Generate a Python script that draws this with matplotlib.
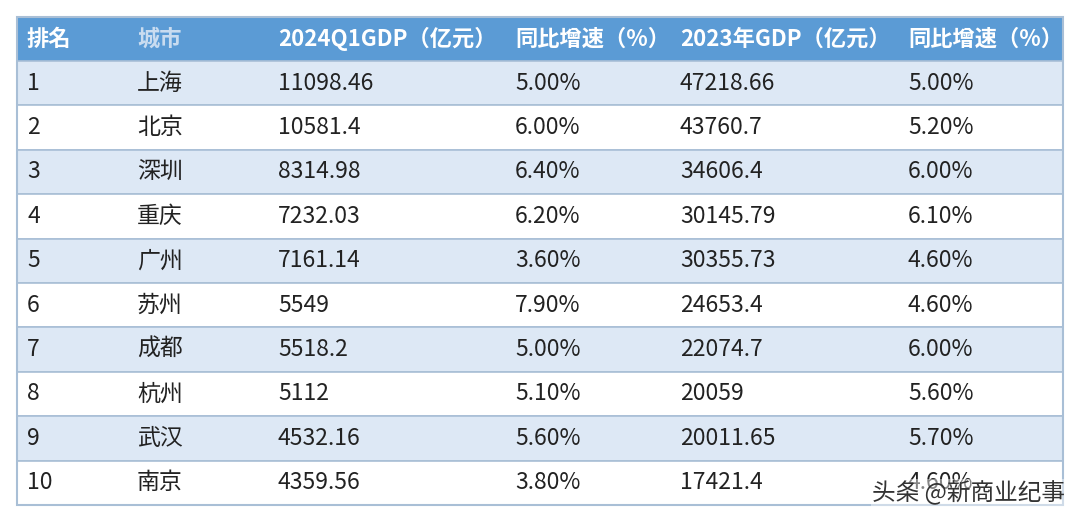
import matplotlib.pyplot as plt
from matplotlib import font_manager as fm
from matplotlib.patches import Rectangle

# pick a CJK font file directly, the family name lookup is not reliable
cjk_files = [f for f in fm.findSystemFonts() if "CJK" in f or "cjk" in f.lower()]
cjk_files.sort(key=lambda f: ("SC" not in f, "Bold" in f, f))
for f in cjk_files:
    fm.fontManager.addfont(f)
if cjk_files:
    cjk_name = fm.FontProperties(fname=cjk_files[0]).get_name()
    plt.rcParams["font.family"] = [cjk_name, "DejaVu Sans"]

headers = ["排名", "城市", "2024Q1GDP（亿元）", "同比增速（%）", "2023年GDP（亿元）", "同比增速（%）"]
ranks = ["1", "2", "3", "4", "5", "6", "7", "8", "9", "10"]
cities = ["上海", "北京", "深圳", "重庆", "广州", "苏州", "成都", "杭州", "武汉", "南京"]
gdp_q1 = ["11098.46", "10581.4", "8314.98", "7232.03", "7161.14", "5549", "5518.2", "5112", "4532.16", "4359.56"]
growth_q1 = ["5.00%", "6.00%", "6.40%", "6.20%", "3.60%", "7.90%", "5.00%", "5.10%", "5.60%", "3.80%"]
gdp_2023 = ["47218.66", "43760.7", "34606.4", "30145.79", "30355.73", "24653.4", "22074.7", "20059", "20011.65", "17421.4"]
growth_2023 = ["5.00%", "5.20%", "6.00%", "6.10%", "4.60%", "4.60%", "6.00%", "5.60%", "5.70%", "4.60%"]

W, H = 1080, 523
fig = plt.figure(figsize=(W / 100, H / 100), dpi=100)
ax = fig.add_axes([0, 0, 1, 1])
ax.set_xlim(0, W)
ax.set_ylim(H, 0)
ax.axis("off")

left, right = 17, 1063
top, head_h, row_h = 17, 44, 44.4
col_x = [27, 137, 278, 515, 680, 908]

# header
ax.add_patch(Rectangle((left, top), right - left, head_h, color="#5b9bd5", lw=0))
for i, h in enumerate(headers):
    color = "#c9dcf0" if i == 1 else "white"
    ax.text(col_x[i], top + head_h / 2, h, color=color, fontsize=16, fontweight="bold", va="center")

columns = [ranks, cities, gdp_q1, growth_q1, gdp_2023, growth_2023]
for r in range(len(ranks)):
    y0 = top + head_h + r * row_h
    face = "#dde8f5" if r % 2 == 0 else "white"
    ax.add_patch(Rectangle((left, y0), right - left, row_h, facecolor=face, edgecolor="#a9bfd6", lw=1.2))
    for c, col in enumerate(columns):
        ax.text(col_x[c], y0 + row_h / 2, col[r], color="#222222", fontsize=16.5, va="center")

ax.add_patch(Rectangle((left, top), right - left, head_h + row_h * len(ranks), fill=False, edgecolor="#a9bfd6", lw=1.5))

# watermark
ax.text(1065, 493, "头条 @新商业纪事", color="#333333", fontsize=17, ha="right", va="center",
        bbox=dict(facecolor="white", alpha=0.45, edgecolor="none", pad=1))

fig.savefig("out.png", dpi=100)
